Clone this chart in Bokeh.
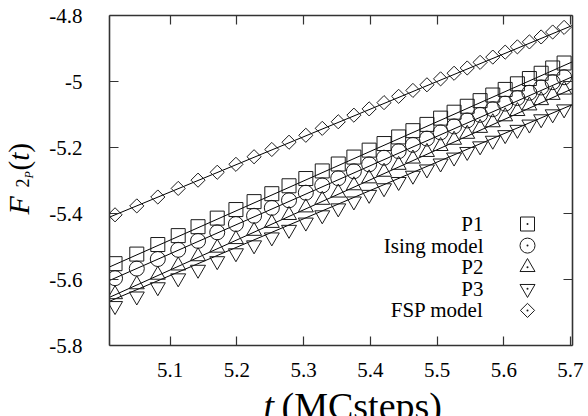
import numpy as np
from bokeh.plotting import figure
from bokeh.layouts import row, column
from bokeh.models import Range1d, FixedTicker, LinearAxis
from bokeh.core.properties import value
from bokeh.embed import file_html
from bokeh.resources import INLINE

# ---- data (x = ln t) ----
x = [5.0173, 5.0499, 5.0814, 5.1120, 5.1417, 5.1705, 5.1985, 5.2257, 5.2523, 5.2781,
     5.3033, 5.3279, 5.3519, 5.3753, 5.3982, 5.4205, 5.4424, 5.4638, 5.4848, 5.5053,
     5.5255, 5.5452, 5.5645, 5.5835, 5.6021, 5.6204, 5.6384, 5.6560, 5.6733, 5.6904]
p1 = [-5.552, -5.523, -5.494, -5.467, -5.440, -5.414, -5.388, -5.364, -5.340, -5.316,
      -5.294, -5.271, -5.250, -5.229, -5.208, -5.188, -5.168, -5.149, -5.130, -5.111,
      -5.093, -5.075, -5.058, -5.041, -5.024, -5.007, -4.991, -4.975, -4.959, -4.944]
ising = [-5.596, -5.567, -5.538, -5.510, -5.483, -5.457, -5.432, -5.407, -5.383, -5.360,
         -5.337, -5.315, -5.293, -5.272, -5.251, -5.231, -5.211, -5.192, -5.173, -5.154,
         -5.136, -5.118, -5.101, -5.084, -5.067, -5.050, -5.034, -5.018, -5.002, -4.987]
p2 = [-5.645, -5.615, -5.586, -5.558, -5.530, -5.504, -5.478, -5.453, -5.429, -5.405,
      -5.382, -5.359, -5.337, -5.315, -5.294, -5.274, -5.253, -5.234, -5.214, -5.196,
      -5.177, -5.159, -5.141, -5.124, -5.106, -5.090, -5.073, -5.057, -5.041, -5.025]
p3 = [-5.680, -5.651, -5.623, -5.596, -5.570, -5.544, -5.520, -5.496, -5.472, -5.449,
      -5.427, -5.405, -5.384, -5.363, -5.343, -5.323, -5.304, -5.285, -5.266, -5.248,
      -5.230, -5.213, -5.196, -5.179, -5.162, -5.146, -5.130, -5.114, -5.099, -5.084]
fsp = [-5.404, -5.377, -5.350, -5.324, -5.299, -5.275, -5.251, -5.228, -5.206, -5.184,
       -5.163, -5.142, -5.122, -5.102, -5.083, -5.064, -5.045, -5.027, -5.010, -4.992,
       -4.975, -4.959, -4.942, -4.926, -4.911, -4.895, -4.880, -4.865, -4.850, -4.836]
series_names = ["P1", "Ising model", "P2", "P3", "FSP model"]
# linear fits: value at the left end of the axis, slope
fit_start = [-5.562, -5.603, -5.654, -5.666, -5.411]
fit_slope = [0.896, 0.890, 0.911, 0.859, 0.837]
x_ticks = [5.1, 5.2, 5.3, 5.4, 5.5, 5.6, 5.7]
x_tick_labels = ["5.1", "5.2", "5.3", "5.4", "5.5", "5.6", "5.7"]
y_ticks = [-5.8, -5.6, -5.4, -5.2, -5.0, -4.8]
y_tick_labels = ["-5.8", "-5.6", "-5.4", "-5.2", "-5", "-4.8"]

# ---- layout (image pixels) ----
W, H = 588, 416
YLAB_W = 46            # strip for the rotated y label
XLAB_H = 26            # strip for the x label
FL, FR, FT, FB = 109, 572, 15, 345   # plot frame in the full image
X0, X1 = 5.0090, 5.7030
Y0, Y1 = -5.8, -4.8
FONT = "'Liberation Serif', 'Times New Roman', Times, serif"
INK = "#1a1a1a"
MID = 0.34             # em offset from baseline to text middle


def blank_fig(w, h, xr, yr, bl=0, br=0, bt=0, bb=0):
    f = figure(width=w, height=h, x_range=Range1d(*xr), y_range=Range1d(*yr),
               x_axis_type=None, y_axis_type=None,
               output_backend="svg", toolbar_location=None, title=None,
               min_border=0, min_border_left=bl, min_border_right=br,
               min_border_top=bt, min_border_bottom=bb)
    f.outline_line_color = None
    f.background_fill_color = "white"
    f.border_fill_color = "white"
    return f


# ---- main plot ----
MW, MH = W - YLAB_W, H - XLAB_H
p = figure(width=MW, height=MH, x_range=Range1d(X0, X1), y_range=Range1d(Y0, Y1),
           x_axis_type=None, y_axis_type=None,
           output_backend="svg", toolbar_location=None, title=None,
           min_border_left=FL - YLAB_W, min_border_right=W - FR,
           min_border_top=FT, min_border_bottom=MH - FB)
p.outline_line_color = None
p.background_fill_color = "white"
p.border_fill_color = "white"


def style_axis(ax, ticks, labels, show):
    ax.ticker = FixedTicker(ticks=ticks)
    ax.axis_line_color = "#333333"
    ax.axis_line_width = 1.6
    ax.major_tick_line_color = "#333333"
    ax.major_tick_line_width = 1.2
    ax.major_tick_in = 9
    ax.major_tick_out = 0
    ax.minor_tick_in = 0
    ax.minor_tick_out = 0
    ax.major_label_text_font = FONT
    ax.major_label_text_color = "black"
    if show:
        ax.major_label_overrides = {t: l for t, l in zip(ticks, labels)}
        ax.major_label_text_font_size = "21px"
    else:
        ax.major_label_overrides = {t: "" for t in ticks}
        ax.major_label_text_font_size = "1px"
        ax.major_label_standoff = 0


bx = LinearAxis()
style_axis(bx, x_ticks, x_tick_labels, True)
bx.major_label_standoff = 17
p.add_layout(bx, "below")
lx = LinearAxis()
style_axis(lx, y_ticks, y_tick_labels, True)
lx.major_label_standoff = 27
p.add_layout(lx, "left")
tx = LinearAxis()
style_axis(tx, x_ticks, x_tick_labels, False)
p.add_layout(tx, "above")
rx = LinearAxis()
style_axis(rx, y_ticks, y_tick_labels, False)
p.add_layout(rx, "right")

series = [p1, ising, p2, p3, fsp]
markers = [("square", 14, 0.0), ("circle", 15, 0.0), ("triangle", 15, 0.0),
           ("inverted_triangle", 15, 0.0), ("square", 10, np.pi / 4)]

# fit lines across the whole axis
xl = np.array([X0, X1])
for a, b in zip(fit_start, fit_slope):
    p.line(xl, a + b * (xl - X0), line_color="black", line_width=1)

for ys, (m, s, ang) in zip(series, markers):
    p.scatter(x, ys, marker=m, size=s, angle=ang, fill_color=None,
              line_color=INK, line_width=1)


def dx(px):
    return X0 + (px - FL) / (FR - FL) * (X1 - X0)


def dy(py):
    return Y1 - (py - FT) / (FB - FT) * (Y1 - Y0)


# legend (labels on the left, symbols on the right)
rows = [223.5 + 21.6 * i for i in range(len(series_names))]
p.text(x=[dx(483)] * len(rows), y=[dy(r) for r in rows], text=series_names,
       text_align="right", text_baseline="middle", text_font=value(FONT),
       text_font_size="21px", text_color="black")
for r, (m, s, ang) in zip(rows, markers):
    p.scatter([dx(527)], [dy(r)], marker=m, size=s, angle=ang,
              fill_color=None, line_color=INK, line_width=1)
    p.scatter([dx(527)], [dy(r)], marker="circle", size=2,
              fill_color=INK, line_color=None)

# ---- x label strip: "t (MCsteps)"; its frame lines up with the plot frame ----
XL_SIZE = 38
XL_BASE = 418
xl_fig = blank_fig(MW, XLAB_H, (FL, FR), (H, MH), bl=FL - YLAB_W, br=W - FR)
xl_fig.text(x=[263], y=[XL_BASE - MID * XL_SIZE], text=["t"], text_font=value(FONT),
            text_font_style="italic", text_font_size=f"{XL_SIZE}px",
            text_baseline="middle", text_color="black")
xl_fig.text(x=[281], y=[XL_BASE - MID * XL_SIZE], text=["(MCsteps)"],
            text_font=value(FONT), text_font_size=f"{XL_SIZE}px",
            text_baseline="middle", text_color="black")

# ---- y label strip: F_{2_P}(t), rotated; frame spans the plot frame's height ----
yl_fig = blank_fig(YLAB_W, H, (0, YLAB_W), (H - FB, H - FT), bt=FT, bb=H - FB)
rot = np.pi / 2
pieces = [  # (baseline x, image y of text start, text, size px, style)
    (28, 214, "F", 30, "italic"),
    (28, 187, "2", 18, "normal"),
    (33, 178, "P", 12, "italic"),
    (28, 170, "(", 29, "normal"),
    (28, 160.3, "t", 29, "italic"),
    (28, 152.2, ")", 29, "normal"),
]
for (bxp, py, t, fs, st) in pieces:
    yl_fig.text(x=[bxp - MID * fs], y=[H - py], text=[t], angle=rot,
                text_font=value(FONT), text_font_style=st,
                text_font_size=f"{fs}px", text_baseline="middle",
                text_color="black")

layout = row(yl_fig, column(p, xl_fig, spacing=0), spacing=0)
open("out.html", "w").write(file_html(layout, INLINE))
